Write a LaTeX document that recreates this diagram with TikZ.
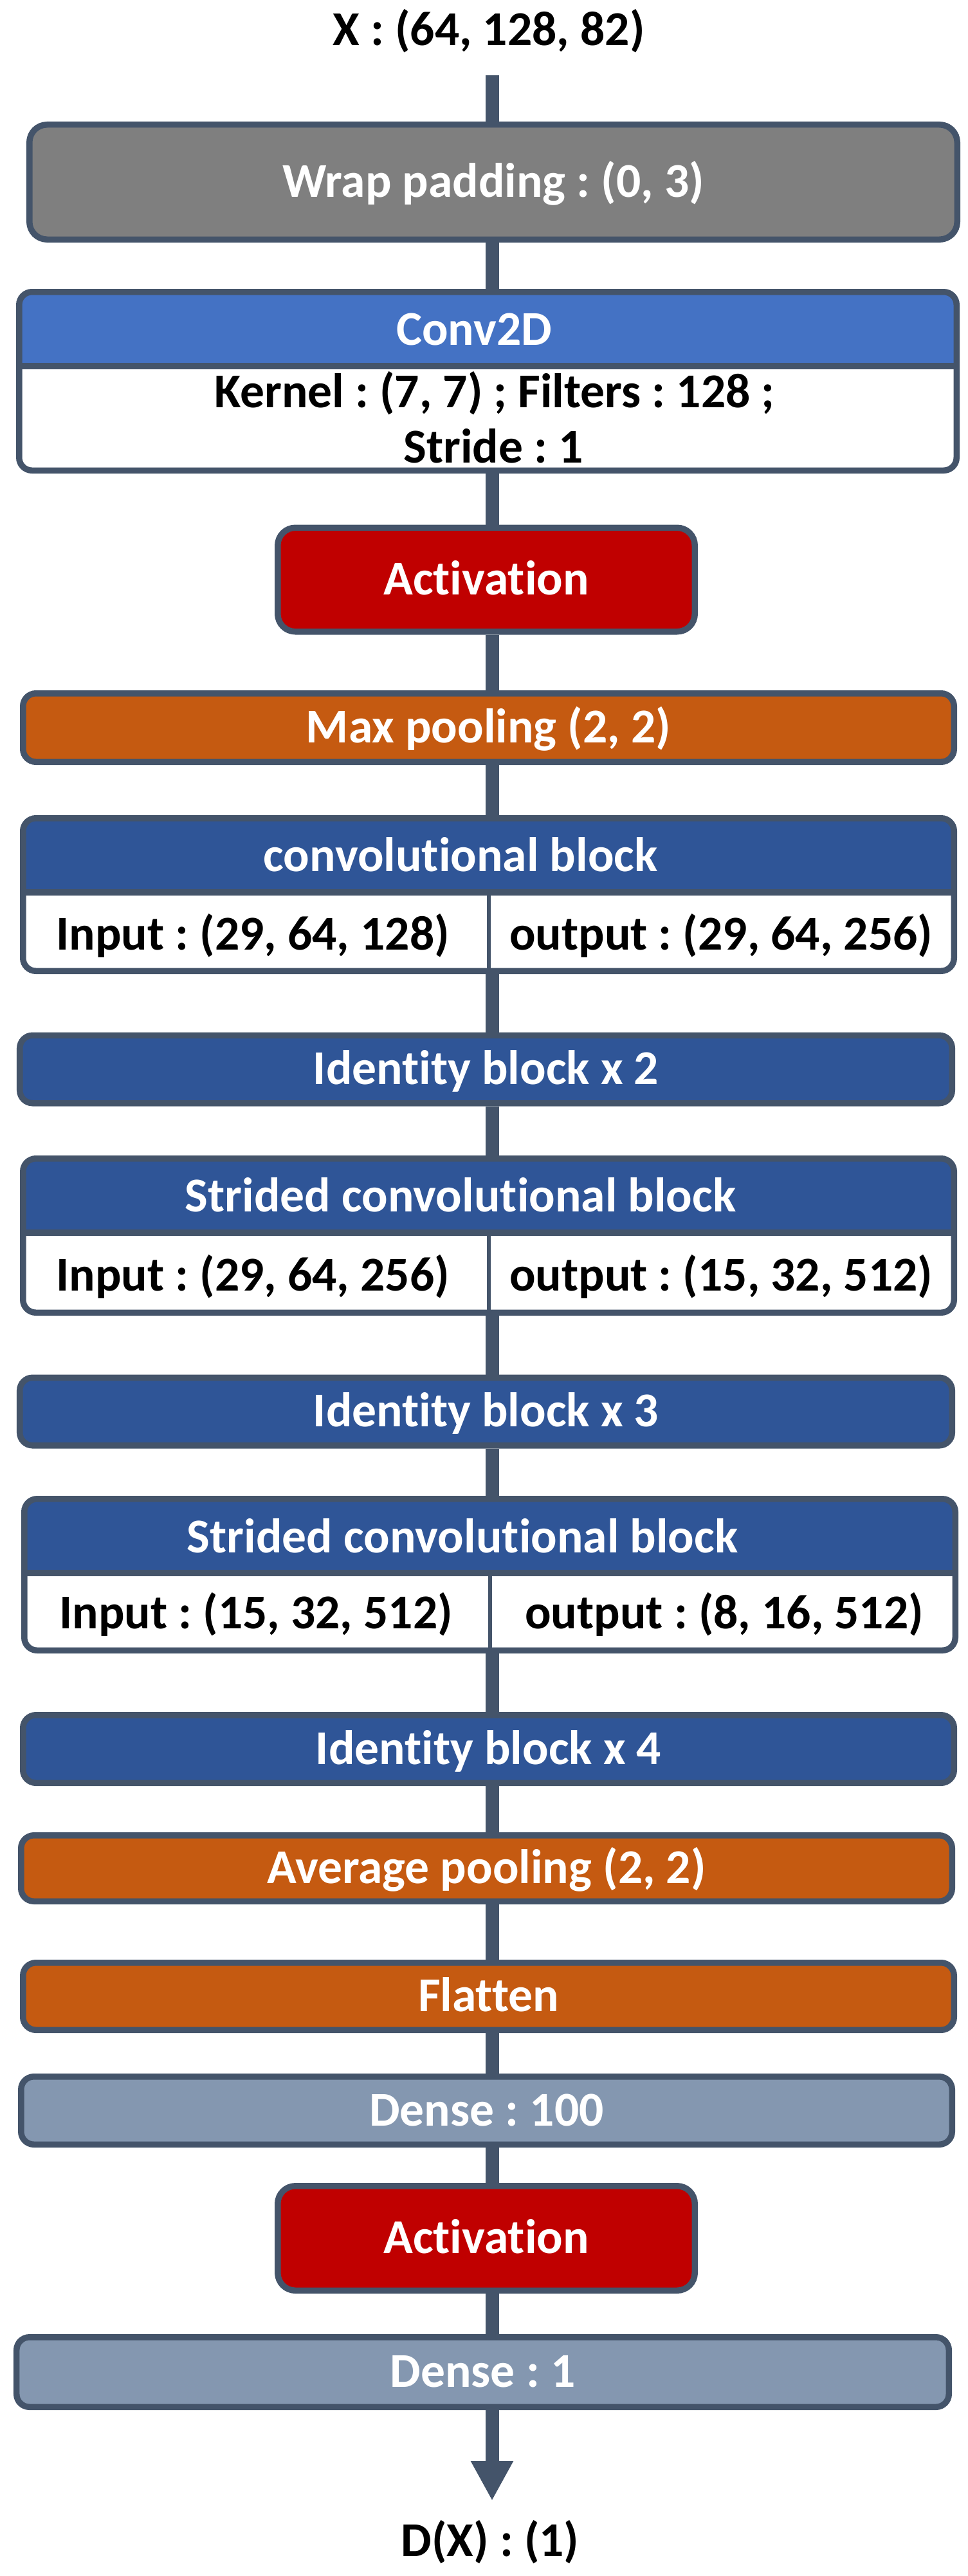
\documentclass[tikz,border=0pt]{standalone}
\usepackage{fontspec}
\setmainfont{Carlito}[Ligatures=NoCommon]
\usetikzlibrary{arrows.meta}
\frenchspacing

\definecolor{edge}{HTML}{44546A}
\definecolor{padgray}{HTML}{7F7F7F}
\definecolor{convblue}{HTML}{4472C4}
\definecolor{blkblue}{HTML}{2F5597}
\definecolor{actred}{HTML}{C00000}
\definecolor{poolorange}{HTML}{C55A11}
\definecolor{densegray}{HTML}{8497B0}

\begin{document}
\begin{tikzpicture}[
    txt/.style={inner sep=0pt,font=\fontsize{43}{50}\selectfont\bfseries,text height=27.2pt,text depth=0pt},
    hdr/.style={txt,text=white},
    box/.style={txt,text=white,draw=edge,line width=0.19cm,rounded corners=0.4cm},
    pad/.style={box,fill=padgray,rounded corners=0.55cm,minimum width=28.85cm,minimum height=3.57cm},
    act/.style={box,fill=actred,rounded corners=0.55cm,minimum width=12.97cm,minimum height=3.23cm},
    pool/.style={box,fill=poolorange,minimum width=28.95cm,minimum height=2.1cm},
    blk/.style={box,fill=blkblue,minimum width=28.99cm,minimum height=2.11cm},
    dense/.style={box,fill=densegray,minimum width=28.95cm,minimum height=2.11cm},
    twopart/.style={box,fill=white,minimum width=28.95cm,minimum height=4.75cm,
      path picture={\fill[#1,sharp corners] (path picture bounding box.north west) rectangle ([yshift=-2.4cm]path picture bounding box.north east);}},
    cut/.style={draw=edge,line width=0.2cm},
    mid/.style={draw=edge,line width=0.12cm},
    flow/.style={draw=edge,line width=0.42cm}
  ]
  \useasboundingbox (0,0) rectangle (30.08,-80.08);

  % input and output shapes
  \node[txt] (xin) at (15.2,-0.94) {X : (64, 128, 82)};
  \node[txt] (dout) at (15.24,-79.0) {D(X) : (1)};

  % layers
  \node[pad] (pad) at (15.34,-5.66) {Wrap padding : (0, 3)};

  \node[twopart=convblue,minimum width=29.15cm,minimum height=5.55cm] (conv) at (15.17,-11.85) {};
  \node[hdr] (convh) at (14.74,-10.25) {Conv2D};
  \node[txt] (convk) at (15.38,-12.2) {Kernel : (7, 7) ; Filters : 128 ;};
  \node[txt] (convs) at (15.34,-13.91) {Stride : 1};

  \node[act] (act1) at (15.12,-18.02) {Activation};
  \node[pool,minimum height=2.13cm] (maxp) at (15.19,-22.62) {Max pooling (2, 2)};

  \node[twopart=blkblue] (cb) at (15.19,-27.81) {};
  \node[hdr] (cbh) at (14.32,-26.62) {convolutional block};
  \node[txt] (cbi) at (7.86,-29.06) {Input : (29, 64, 128)};
  \node[txt] (cbo) at (22.42,-29.06) {output : (29, 64, 256)};

  \node[blk] (id2) at (15.11,-33.24) {Identity block x 2};

  \node[twopart=blkblue,minimum height=4.79cm] (scb1) at (15.19,-38.41) {};
  \node[hdr] (scb1h) at (14.32,-37.2) {Strided convolutional block};
  \node[txt] (scb1i) at (7.86,-39.66) {Input : (29, 64, 256)};
  \node[txt] (scb1o) at (22.42,-39.66) {output : (15, 32, 512)};

  \node[blk] (id3) at (15.11,-43.88) {Identity block x 3};

  \node[twopart=blkblue,minimum height=4.71cm] (scb2) at (15.23,-48.95) {};
  \node[hdr] (scb2h) at (14.38,-47.8) {Strided convolutional block};
  \node[txt] (scb2i) at (7.96,-50.16) {Input : (15, 32, 512)};
  \node[txt] (scb2o) at (22.52,-50.16) {output : (8, 16, 512)};

  \node[blk,minimum width=28.95cm] (id4) at (15.19,-54.37) {Identity block x 4};
  \node[pool,minimum height=2.05cm] (avgp) at (15.13,-58.08) {Average pooling (2, 2)};
  \node[pool,minimum height=2.09cm] (flat) at (15.19,-62.06) {Flatten};
  \node[dense] (d100) at (15.13,-65.61) {Dense : 100};
  \node[act,minimum height=3.25cm] (act2) at (15.12,-69.58) {Activation};
  \node[dense,minimum width=28.99cm,minimum height=2.17cm] (d1) at (15.01,-73.74) {Dense : 1};

  % inner rules of the split blocks
  \draw[cut] ([yshift=-2.4cm]conv.north west) -- ([yshift=-2.4cm]conv.north east);
  \draw[cut] ([yshift=-2.4cm]cb.north west) -- ([yshift=-2.4cm]cb.north east);
  \draw[mid] ([yshift=-2.4cm]cb.north) -- (cb.south);
  \draw[cut] ([yshift=-2.4cm]scb1.north west) -- ([yshift=-2.4cm]scb1.north east);
  \draw[mid] ([yshift=-2.4cm]scb1.north) -- (scb1.south);
  \draw[cut] ([yshift=-2.4cm]scb2.north west) -- ([yshift=-2.4cm]scb2.north east);
  \draw[mid] ([yshift=-2.4cm]scb2.north) -- (scb2.south);

  % data flow
  \coordinate (axis) at (15.3,0);
  \coordinate (top) at (15.3,-2.34);
  \coordinate (tip) at (15.3,-77.74);
  \draw[flow] (top) -- (axis |- pad.north);
  \draw[flow] (axis |- pad.south) -- (axis |- conv.north);
  \draw[flow] (axis |- conv.south) -- (axis |- act1.north);
  \draw[flow] (axis |- act1.south) -- (axis |- maxp.north);
  \draw[flow] (axis |- maxp.south) -- (axis |- cb.north);
  \draw[flow] (axis |- cb.south) -- (axis |- id2.north);
  \draw[flow] (axis |- id2.south) -- (axis |- scb1.north);
  \draw[flow] (axis |- scb1.south) -- (axis |- id3.north);
  \draw[flow] (axis |- id3.south) -- (axis |- scb2.north);
  \draw[flow] (axis |- scb2.south) -- (axis |- id4.north);
  \draw[flow] (axis |- id4.south) -- (axis |- avgp.north);
  \draw[flow] (axis |- avgp.south) -- (axis |- flat.north);
  \draw[flow] (axis |- flat.south) -- (axis |- d100.north);
  \draw[flow] (axis |- d100.south) -- (axis |- act2.north);
  \draw[flow] (axis |- act2.south) -- (axis |- d1.north);
  \draw[flow,-{Triangle[width=1.24cm,length=1.24cm]}] (axis |- d1.south) -- (tip);
\end{tikzpicture}
\end{document}
